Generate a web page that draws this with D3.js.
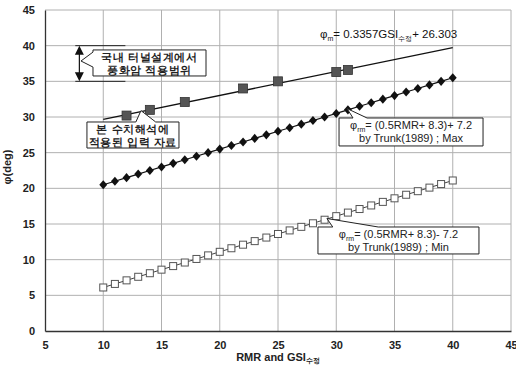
<!DOCTYPE html>
<html>
<head>
<meta charset="utf-8">
<script src="https://cdn.jsdelivr.net/npm/d3@7"></script>
<style>
  body { margin: 0; background: #fff; }
  text { font-family: "Liberation Sans", Arial, sans-serif; fill: #222; }
</style>
</head>
<body>
<div class="viz"></div>
<script>
// input values
const rmr = [10, 11, 12, 13, 14, 15, 16, 17, 18, 19, 20, 21, 22, 23, 24, 25, 26, 27, 28, 29, 30, 31, 32, 33, 34, 35, 36, 37, 38, 39, 40]
const phiMax = [20.5, 21, 21.5, 22, 22.5, 23, 23.5, 24, 24.5, 25, 25.5, 26, 26.5, 27, 27.5, 28, 28.5, 29, 29.5, 30, 30.5, 31, 31.5, 32, 32.5, 33, 33.5, 34, 34.5, 35, 35.5]
const phiMin = [6.1, 6.6, 7.1, 7.6, 8.1, 8.6, 9.1, 9.6, 10.1, 10.6, 11.1, 11.6, 12.1, 12.6, 13.1, 13.6, 14.1, 14.6, 15.1, 15.6, 16.1, 16.6, 17.1, 17.6, 18.1, 18.6, 19.1, 19.6, 20.1, 20.6, 21.1]
const gsiInput = [12, 14, 17, 22, 25, 30, 31]
const phiInput = [30.2, 31.0, 32.1, 34.0, 35.0, 36.3, 36.6]
const trendX = [10, 40]
const trendY = [29.66, 39.73]
const xTicks = [5, 10, 15, 20, 25, 30, 35, 40, 45]
const yTicks = [0, 5, 10, 15, 20, 25, 30, 35, 40, 45]

const width = 516
const height = 371
const plot = { left: 45, right: 511, top: 10, bottom: 331 }

const svg = d3.select('.viz')
  .append('svg')
    .attr('width', width)
    .attr('height', height)

const x = d3.scaleLinear().domain([5, 45]).range([plot.left, plot.right])
const y = d3.scaleLinear().domain([0, 45]).range([plot.bottom, plot.top])

// grid
svg.append('g')
  .selectAll('line')
  .data(xTicks.slice(1)).enter().append('line')
  .attr('x1', d => x(d)).attr('x2', d => x(d))
  .attr('y1', plot.top).attr('y2', plot.bottom)
  .attr('stroke', '#b0b0b0')
svg.append('g')
  .selectAll('line')
  .data(yTicks.slice(1)).enter().append('line')
  .attr('x1', plot.left).attr('x2', plot.right)
  .attr('y1', d => y(d)).attr('y2', d => y(d))
  .attr('stroke', '#b0b0b0')

// axes
const xAxis = svg.append('g')
  .attr('transform', `translate(0,${plot.bottom})`)
  .call(d3.axisBottom(x).tickValues(xTicks).tickSize(0).tickPadding(10))
const yAxis = svg.append('g')
  .attr('transform', `translate(${plot.left},0)`)
  .call(d3.axisLeft(y).tickValues(yTicks).tickSize(0).tickPadding(10))
;[xAxis, yAxis].forEach(a => {
  a.select('.domain').attr('stroke', '#333').attr('stroke-width', 1.3)
  a.selectAll('text')
    .attr('font-size', 11)
    .attr('font-weight', 'bold')
    .attr('fill', '#333')
    .attr('font-family', '"Liberation Sans", Arial, sans-serif')
})

svg.append('text')
  .attr('x', x(25)).attr('y', 361)
  .attr('text-anchor', 'middle')
  .attr('font-size', 11).attr('font-weight', 'bold')
  .text('RMR and GSI')
  .append('tspan').attr('font-size', 7).attr('dy', 2).text('수정')

svg.append('text')
  .attr('transform', 'translate(11,167) rotate(-90)')
  .attr('text-anchor', 'middle')
  .attr('font-size', 11).attr('font-weight', 'bold')
  .text('φ(deg)')

// lines
const line = d3.line().x(d => x(d[0])).y(d => y(d[1]))
svg.append('path')
  .attr('d', line(d3.zip(trendX, trendY)))
  .attr('fill', 'none').attr('stroke', '#111').attr('stroke-width', 1.3)
svg.append('path')
  .attr('d', line(d3.zip(rmr, phiMax)))
  .attr('fill', 'none').attr('stroke', '#111').attr('stroke-width', 1.2)
svg.append('path')
  .attr('d', line(d3.zip(rmr, phiMin)))
  .attr('fill', 'none').attr('stroke', '#444').attr('stroke-width', 1)

// markers
svg.append('g').selectAll('rect')
  .data(d3.zip(rmr, phiMin)).enter().append('rect')
  .attr('x', d => x(d[0]) - 3.5).attr('y', d => y(d[1]) - 3.5)
  .attr('width', 7).attr('height', 7)
  .attr('fill', '#fff').attr('stroke', '#555').attr('stroke-width', 1)

svg.append('g').selectAll('path')
  .data(d3.zip(rmr, phiMax)).enter().append('path')
  .attr('d', d3.symbol().type(d3.symbolDiamond2).size(40))
  .attr('transform', d => `translate(${x(d[0])},${y(d[1])}) scale(1,1.15)`)
  .attr('fill', '#111')

svg.append('g').selectAll('rect')
  .data(d3.zip(gsiInput, phiInput)).enter().append('rect')
  .attr('x', d => x(d[0]) - 4.5).attr('y', d => y(d[1]) - 4.5)
  .attr('width', 9).attr('height', 9)
  .attr('fill', '#555').attr('stroke', '#333').attr('stroke-width', 0.8)

// range bracket (35 ~ 40 deg)
const bracketX = [7.6, 11.9]
;[35, 40].forEach(v => {
  svg.append('line')
    .attr('x1', x(bracketX[0])).attr('x2', x(bracketX[1]))
    .attr('y1', y(v)).attr('y2', y(v))
    .attr('stroke', '#222').attr('stroke-width', 1)
})
const ax = x(7.95)
svg.append('line')
  .attr('x1', ax).attr('x2', ax)
  .attr('y1', y(40) + 8).attr('y2', y(35) - 8)
  .attr('stroke', '#111').attr('stroke-width', 1.2)
svg.append('path')
  .attr('d', `M${ax},${y(40)}l-4.5,9h9Z M${ax},${y(35)}l-4.5,-9h9Z`)
  .attr('fill', '#111')

// callouts: box in data units, wedge on one side pointing to tip
function callout(box, tip, base, side, lines) {
  const x0 = x(box[0]), x1 = x(box[1]), y0 = y(box[2]), y1 = y(box[3])
  let d
  if (side === 'left') {
    d = `M${x0},${y0}H${x1}V${y1}H${x0}V${y(base[1])}L${x(tip[0])},${y(tip[1])}L${x0},${y(base[0])}Z`
  } else {
    d = `M${x0},${y0}H${x(base[0])}L${x(tip[0])},${y(tip[1])}L${x(base[1])},${y0}H${x1}V${y1}H${x0}Z`
  }
  svg.append('path')
    .attr('d', d)
    .attr('fill', '#fff').attr('stroke', '#222').attr('stroke-width', 1)
  const cx = (x0 + x1) / 2
  lines.forEach((ln, i) => {
    const t = svg.append('text')
      .attr('x', cx).attr('y', y0 + 11 + i * 13)
      .attr('text-anchor', 'middle')
      .attr('font-size', ln.bold ? 10.5 : 11)
      .attr('font-weight', ln.bold ? 'bold' : 'normal')
      .attr('letter-spacing', ln.bold ? 0.6 : 0)
    ln.parts.forEach(p => {
      const s = t.append('tspan').text(p[0])
      if (p[1] === 'sub') s.attr('font-size', 7).attr('baseline-shift', '-3')
    })
  })
}

callout([9.12, 18.82, 39.4, 35.75], [8.09, 37.85], [39.1, 37.0], 'left', [
  {bold: true, parts: [['국내 터널설계에서']]},
  {bold: true, parts: [['풍화암 적용범위']]}
])
callout([8.6, 16.5, 29.3, 25.65], [13.24, 30.9], [12.8, 14.5], 'top', [
  {bold: true, parts: [['본 수치해석에']]},
  {bold: true, parts: [['적용된 입력 자료']]}
])
callout([30.24, 42.6, 29.86, 25.94], [30.92, 31.19], [31.44, 32.64], 'top', [
  {parts: [['φ'], ['rm', 'sub'], ['= (0.5RMR+ 8.3)+ 7.2']]},
  {parts: [['by Trunk(1989) ; Max']]}
])
callout([28.43, 42.25, 14.58, 10.8], [29.2, 15.77], [29.7, 33.6], 'top', [
  {parts: [['φ'], ['rm', 'sub'], ['= (0.5RMR+ 8.3)- 7.2']]},
  {parts: [['by Trunk(1989) ; Min']]}
])

// regression label
const eq = svg.append('text')
  .attr('x', x(28.6)).attr('y', 38)
  .attr('font-size', 11.5)
  .style('fill', '#111')
eq.append('tspan').text('φ')
eq.append('tspan').text('m').attr('font-size', 7).attr('baseline-shift', '-3')
eq.append('tspan').text('= 0.3357GSI')
eq.append('tspan').text('수정').attr('font-size', 7).attr('baseline-shift', '-3')
eq.append('tspan').text('+ 26.303')
</script>
</body>
</html>
